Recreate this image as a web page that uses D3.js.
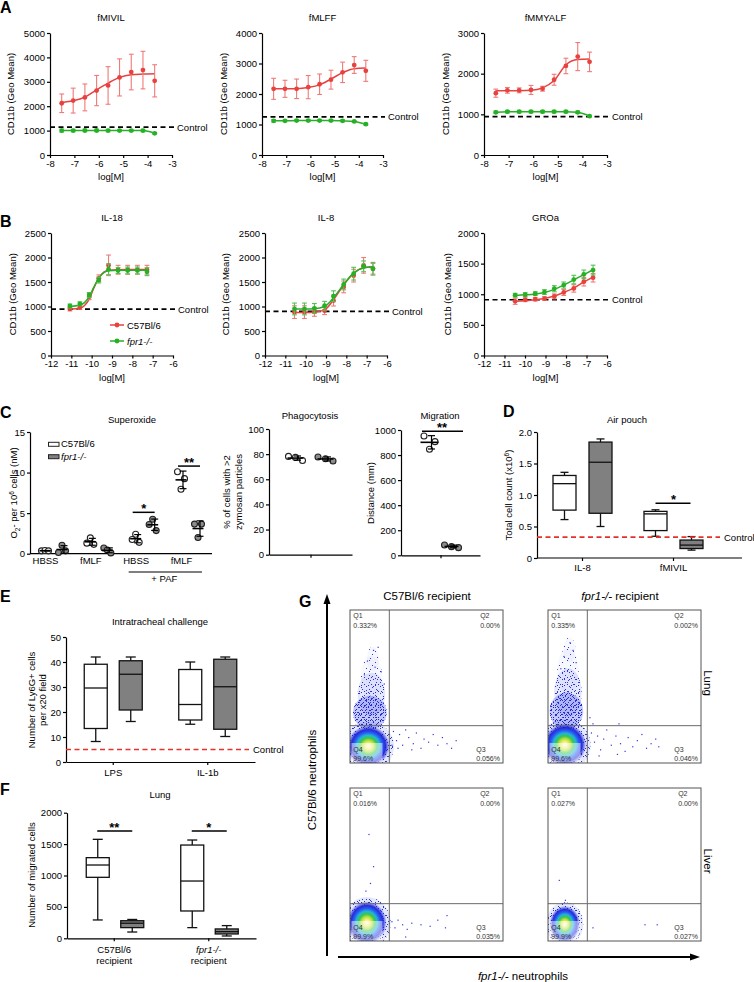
<!DOCTYPE html>
<html><head><meta charset="utf-8">
<script src="https://cdn.jsdelivr.net/npm/d3@7"></script>
<style>body{margin:0;background:#fff}</style>
</head><body>
<script>
// ================= DATA =================
// Panel A (formyl peptides), x = log[M]
const dosesA = [-7.52,-7.05,-6.57,-6.09,-5.62,-5.15,-4.67,-4.19,-3.71];
const ticksA_x = [-8,-7,-6,-5,-4,-3];
const fMIVIL_wt = [2120,2230,2360,2640,2850,3180,3400,3480,3040];
const fMIVIL_wtErr = [380,510,550,620,770,760,730,770,660];
const fMIVIL_wtFit = [2150,2220,2370,2670,2945,3180,3290,3315,3330];
const fMIVIL_ko = [1000,1000,1005,1005,1000,1000,1000,1000,890];
const fMIVIL_koErr = [60,50,50,50,50,40,40,50,30];
const fMIVIL_control = 1140;
const fMLFF_wt = [2170,2170,2170,2225,2320,2470,2710,2950,2760];
const fMLFF_wtErr = [345,280,320,380,335,310,335,275,345];
const fMLFF_wtFit = [2170,2170,2175,2215,2300,2490,2700,2830,2850];
const fMLFF_ko = [1120,1120,1130,1130,1130,1130,1120,1100,1010];
const fMLFF_koErr = [40,30,30,30,30,30,30,30,30];
const fMLFF_control = 1250;
const fMMYALF_wt = [1520,1590,1590,1600,1630,1850,2190,2420,2290];
const fMMYALF_wtErr = [100,70,60,110,60,135,190,345,240];
const fMMYALF_wtFit = [1580,1580,1580,1590,1650,1830,2220,2350,2360];
const fMMYALF_ko = [1050,1065,1065,1065,1065,1065,1065,1050,955];
const fMMYALF_koErr = [30,30,30,30,30,30,30,30,20];
const fMMYALF_control = 945;

// Panel B (chemokines)
const ticksB_x = [-12,-11,-10,-9,-8,-7,-6];
const dosesIL18 = [-11.07,-10.58,-10.12,-9.65,-9.17,-8.70,-8.23,-7.75,-7.28];
const IL18_wt = [950,980,1200,1575,1840,1750,1750,1750,1750];
const IL18_wtErr = [40,40,60,70,210,90,90,90,90];
const IL18_ko = [1010,1055,1235,1540,1760,1735,1735,1735,1710];
const IL18_koErr = [40,40,50,60,110,60,70,70,80];
const IL18_fitDoses = [-11.07,-10.58,-10.35,-10.12,-9.9,-9.65,-9.4,-9.17,-8.70,-8.23,-7.75,-7.28];
const IL18_wtFit = [950,965,1020,1150,1370,1580,1700,1740,1752,1755,1755,1755];
const IL18_koFit = [1000,1030,1080,1200,1390,1580,1690,1730,1740,1740,1740,1740];
const IL18_control = 945;
const dosesIL8 = [-10.55,-10.06,-9.57,-9.07,-8.63,-8.13,-7.64,-7.15,-6.69];
const IL8_wt = [885,885,890,915,1120,1400,1630,1840,1770];
const IL8_wtErr = [130,130,90,80,110,120,130,160,110];
const IL8_wtFit = [880,880,885,930,1140,1440,1680,1790,1810];
const IL8_ko = [950,950,960,1015,1210,1450,1670,1820,1770];
const IL8_koErr = [120,120,100,90,110,110,130,110,130];
const IL8_koFit = [950,950,955,1000,1180,1450,1680,1790,1810];
const IL8_control = 900;
const dosesGROa = [-10.48,-9.99,-9.50,-9.05,-8.57,-8.11,-7.62,-7.13,-6.68];
const GROa_wt = [885,910,920,930,965,1030,1095,1205,1270];
const GROa_wtErr = [50,30,30,30,40,50,60,70,70];
const GROa_wtFit = [885,895,910,930,970,1030,1100,1200,1280];
const GROa_ko = [985,995,1010,1035,1090,1150,1240,1325,1395];
const GROa_koErr = [30,30,30,40,50,50,70,70,80];
const GROa_koFit = [980,990,1005,1030,1080,1150,1235,1320,1400];
const GROa_control = 910;

// Panel C
const soxCats = ['HBSS','fMLF','HBSS+PAF','fMLF+PAF'];
const soxLabels = ['HBSS','fMLF','HBSS','fMLF'];
const soxWT = [[0.35,0.4,0.35],[1.3,1.95,1.15],[1.75,2.4,1.4],[10.1,7.95,9.25]];
const soxKO = [[0.15,1.05,0.35],[0.7,0.45,0.1],[3.6,4.25,2.85],[3.65,2.0,3.65]];
const soxTicks = [0,5,10,15];
const soxSig = [{cat:'HBSS+PAF',y:5.1,label:'*'},{cat:'fMLF+PAF',y:10.8,label:'**'}];
const phagoWT = [78.2,77.4,75.0];
const phagoKO = [77.7,76.3,74.5];
const phagoTicks = [0,20,40,60,80,100];
const migWT = [952,846,907];
const migKO = [82,69,61];
const migTicks = [0,200,400,600,800,1000];
const migSig = 990;

// Panel D (min, Q1, median, Q3, max)
const dCats = ['IL-8','fMIVIL'];
const dWT = [[0.61,0.76,1.18,1.31,1.36],[0.345,0.435,0.70,0.74,0.765]];
const dKO = [[0.50,0.71,1.52,1.84,1.89],[0.125,0.15,0.205,0.285,0.34]];
const dTicks = [0,0.5,1.0,1.5,2.0];
const dControl = 0.33;
const dSig = 0.87;

// Panel E
const eCats = ['LPS','IL-1b'];
const eWT = [[8.2,13.4,29.6,39.1,42],[15.1,16.8,23,37,40]];
const eKO = [[16.2,20.8,35.1,40.5,42],[10.2,13.1,30.1,41.1,42]];
const eTicks = [0,10,20,30,40,50];
const eControl = 5;

// Panel F
const fCats = ['C57Bl/6','fpr1-/-'];
const fWT = [[292,971,1167,1284,1576],[170,435,912,1485,1565]];
const fKO = [[100,170,240,280,300],[37,69,106,149,202]];
const fTicks = [0,500,1000,1500,2000];
const fSig = [{cat:'C57Bl/6',y:1710,label:'**'},{cat:'fpr1-/-',y:1710,label:'*'}];

// Panel G (flow cytometry, units 0-100 on both axes)
const flowCols = ['C57Bl/6 recipient','fpr1-/- recipient'];
const flowRows = ['Lung','Liver'];
const flowGate = [25.7, 24.4];
const flowQ = [['0.332%','0.00%','0.056%','99.6%'],['0.335%','0.002%','0.046%','99.6%'],['0.016%','0.00%','0.035%','99.9%'],['0.027%','0.00%','0.027%','99.9%']];
const flowCore = [[12,11,14,13.5],[11,12,14,14],[11,12,13,14],[11,11,10,12]];
const flowStreak = [
  [[13,33,11,11,3],[14,45,9,14,2],[14,56,7,14,1],[15,68,4,8,1]],
  [[12,34,11,12,3],[13,46,9,16,2],[13,60,7,15,1],[14,74,4,8,1]],
  [],[]];
const flowOut = [
  [[28,21],[30,15],[32,19],[34,12],[36,22],[38,17],[41,13],[43,20],[46,10],[48,16],[51,14],[54,19],[57,12],[60,17],[63,13],[66,10],[69,15],[40,9],[31,10],[27,12],[15,74],[18,76],[11,67],[16,63],[20,60],[9,58],[22,52]],
  [[27,30],[29,26],[46,26],[28,20],[30,14],[32,18],[34,9],[36,16],[38,22],[41,12],[44,18],[47,13],[50,8],[52,17],[55,11],[58,15],[61,19],[64,10],[67,13],[70,16],[72,11],[33,5],[45,6],[14,79],[16,74],[10,70],[18,66],[8,62]],
  [[12,70],[15,49],[13,38],[10,33],[27,13],[29,9],[31,14],[34,11],[37,8],[40,12],[46,11],[52,10],[57,14],[62,9],[63,17],[36,3]],
  [[7,40],[11,27],[29,9],[63,11],[71,11]]
];

// ================= DRAWING =================
const FONT = "'Liberation Sans', Arial, Helvetica, sans-serif";
const RED = '#e8423f', RED_ERR = '#ef7a78', GREEN = '#25b025', GREEN_ERR = '#52c252';
const GREY = '#808080';
const TS = 3, TP = 2;
const fmt = d=>String(d);
const svg = d3.select('body').append('svg').attr('width',754).attr('height',982).style('display','block');
const defs = svg.append('defs');

function txt(x,y,s,o={}){
  const t = svg.append('text').attr('x',x).attr('y',y).text(s)
    .attr('font-family',FONT).attr('font-size',o.size||9.5)
    .attr('text-anchor',o.anchor||'middle').attr('fill',o.fill||'#000');
  if(o.weight) t.attr('font-weight',o.weight);
  if(o.style) t.attr('font-style',o.style);
  return t;
}
function vtxt(cx,cy,s,o={}){
  const rot = o.rot||-90;
  const t = svg.append('text').attr('transform',`translate(${cx + (rot<0?3.4:-3.4)},${cy}) rotate(${rot})`)
    .attr('font-family',FONT).attr('font-size',o.size||9.5).attr('text-anchor','middle').attr('fill','#000');
  if(s!==null) t.text(s);
  return t;
}
function styleAxis(g){
  g.attr('font-family',FONT).attr('font-size',9.5);
  g.select('.domain').attr('stroke','#000').attr('stroke-width',1.2);
  g.selectAll('.tick line').attr('stroke','#000').attr('stroke-width',1.2);
  g.selectAll('.tick text').attr('fill','#000');
}
const left = (y,t,f)=>d3.axisLeft(y).tickValues(t).tickFormat(f||fmt).tickSize(TS).tickPadding(TP).tickSizeOuter(0);
function panelLetter(x,y,s){ txt(x,y,s,{anchor:'start',size:16,weight:'bold'}); }

// ---------- dose response ----------
function doseChart(c){
  const x = d3.scaleLinear().domain([c.xTicks[0], c.xTicks[c.xTicks.length-1]]).range([c.left,c.right]);
  const y = d3.scaleLinear().domain([0,c.yTicks[c.yTicks.length-1]]).range([c.bottom,c.top]);
  svg.append('g').attr('transform',`translate(0,${c.bottom})`)
    .call(d3.axisBottom(x).tickValues(c.xTicks).tickFormat(fmt).tickSize(TS).tickPadding(TP).tickSizeOuter(0)).call(styleAxis);
  svg.append('g').attr('transform',`translate(${c.left},0)`).call(left(y,c.yTicks)).call(styleAxis);
  svg.append('line').attr('x1',c.left).attr('x2',c.right+2).attr('y1',y(c.control)).attr('y2',y(c.control))
    .attr('stroke','#000').attr('stroke-width',1.7).attr('stroke-dasharray','5,3.5');
  txt(c.right+5, y(c.control)+3.5, 'Control', {anchor:'start'});
  c.series.forEach(s=>{
    const fx = s.fitX || c.doses;
    svg.append('path').datum(s.fit)
      .attr('d', d3.line().x((d,i)=>x(fx[i])).y(d=>y(d)).curve(d3.curveMonotoneX))
      .attr('fill','none').attr('stroke',s.color).attr('stroke-width',1.5);
    const g = svg.append('g');
    s.vals.forEach((v,i)=>{
      const xx = x(c.doses[i]), e = s.err[i];
      g.append('line').attr('x1',xx).attr('x2',xx).attr('y1',y(v-e)).attr('y2',y(v+e)).attr('stroke',s.errColor).attr('stroke-width',1.1);
      [v-e,v+e].forEach(w=>g.append('line').attr('x1',xx-2.4).attr('x2',xx+2.4).attr('y1',y(w)).attr('y2',y(w)).attr('stroke',s.errColor).attr('stroke-width',1.1));
      g.append('circle').attr('cx',xx).attr('cy',y(v)).attr('r',2.4).attr('fill',s.color);
    });
  });
  txt((c.left+c.right)/2, c.top-12, c.title);
  txt((c.left+c.right)/2, c.bottom+25, 'log[M]');
  vtxt(c.ylx, (c.top+c.bottom)/2, 'CD11b (Geo Mean)');
  return {x,y};
}

const A = {top:33, bottom:155, xTicks:ticksA_x, doses:dosesA};
doseChart({...A, left:50, right:172, ylx:11, title:'fMIVIL', yTicks:[0,1000,2000,3000,4000,5000], control:fMIVIL_control,
  series:[{vals:fMIVIL_wt, err:fMIVIL_wtErr, fit:fMIVIL_wtFit, color:RED, errColor:RED_ERR},
          {vals:fMIVIL_ko, err:fMIVIL_koErr, fit:fMIVIL_ko, color:GREEN, errColor:GREEN_ERR}]});
doseChart({...A, left:262, right:383, ylx:224, title:'fMLFF', yTicks:[0,1000,2000,3000,4000], control:fMLFF_control,
  series:[{vals:fMLFF_wt, err:fMLFF_wtErr, fit:fMLFF_wtFit, color:RED, errColor:RED_ERR},
          {vals:fMLFF_ko, err:fMLFF_koErr, fit:fMLFF_ko, color:GREEN, errColor:GREEN_ERR}]});
doseChart({...A, left:484, right:607, ylx:446, title:'fMMYALF', yTicks:[0,1000,2000,3000], control:fMMYALF_control,
  series:[{vals:fMMYALF_wt, err:fMMYALF_wtErr, fit:fMMYALF_wtFit, color:RED, errColor:RED_ERR},
          {vals:fMMYALF_ko, err:fMMYALF_koErr, fit:fMMYALF_ko, color:GREEN, errColor:GREEN_ERR}]});
panelLetter(0,13,'A');

const B = {top:233, bottom:355.5, xTicks:ticksB_x};
doseChart({...B, left:51, right:173, ylx:12.5, title:'IL-18', doses:dosesIL18, yTicks:[0,500,1000,1500,2000,2500], control:IL18_control,
  series:[{vals:IL18_wt, err:IL18_wtErr, fit:IL18_wtFit, fitX:IL18_fitDoses, color:RED, errColor:RED_ERR},
          {vals:IL18_ko, err:IL18_koErr, fit:IL18_koFit, fitX:IL18_fitDoses, color:GREEN, errColor:GREEN_ERR}]});
doseChart({...B, left:265, right:387, ylx:226, title:'IL-8', doses:dosesIL8, yTicks:[0,500,1000,1500,2000,2500], control:IL8_control,
  series:[{vals:IL8_wt, err:IL8_wtErr, fit:IL8_wtFit, color:RED, errColor:RED_ERR},
          {vals:IL8_ko, err:IL8_koErr, fit:IL8_koFit, color:GREEN, errColor:GREEN_ERR}]});
doseChart({...B, left:484, right:607, ylx:448, title:'GROa', doses:dosesGROa, yTicks:[0,500,1000,1500,2000], control:GROa_control,
  series:[{vals:GROa_wt, err:GROa_wtErr, fit:GROa_wtFit, color:RED, errColor:RED_ERR},
          {vals:GROa_ko, err:GROa_koErr, fit:GROa_koFit, color:GREEN, errColor:GREEN_ERR}]});
panelLetter(0,227,'B');
[['C57Bl/6',RED,325,false],['fpr1-/-',GREEN,341,true]].forEach(([lab,col,yy,it])=>{
  svg.append('line').attr('x1',110).attr('x2',124).attr('y1',yy).attr('y2',yy).attr('stroke',col).attr('stroke-width',1.5);
  svg.append('circle').attr('cx',117).attr('cy',yy).attr('r',2.4).attr('fill',col);
  txt(127,yy+3.5,lab,{anchor:'start',style:it?'italic':null});
});

// ---------- Panel C ----------
panelLetter(0,418,'C');
function dotGroup(cx, vals, y, fill, step, meanW){
  const g = svg.append('g');
  const m = d3.mean(vals), sd = d3.deviation(vals);
  vals.forEach((v,i)=>g.append('circle').attr('cx',cx+(i-1)*step).attr('cy',y(v)).attr('r',3)
    .attr('fill',fill).attr('stroke','#222').attr('stroke-width',1.1));
  g.append('line').attr('x1',cx-meanW/2).attr('x2',cx+meanW/2).attr('y1',y(m)).attr('y2',y(m)).attr('stroke','#000').attr('stroke-width',1.6);
  g.append('line').attr('x1',cx+2).attr('x2',cx+2).attr('y1',y(m-sd)).attr('y2',y(m+sd)).attr('stroke','#000').attr('stroke-width',1.2);
  [m-sd,m+sd].forEach(w=>g.append('line').attr('x1',cx-1.5).attr('x2',cx+5.5).attr('y1',y(w)).attr('y2',y(w)).attr('stroke','#000').attr('stroke-width',1.2));
}
{
  const y = d3.scaleLinear().domain([0,15]).range([553.7,432]);
  const x = d3.scalePoint().domain(soxCats).range([45,181]);
  svg.append('g').attr('transform','translate(30,0)').call(left(y,soxTicks)).call(styleAxis);
  const gx = svg.append('g').attr('transform','translate(0,553.7)')
    .call(d3.axisBottom(x).tickSize(0).tickPadding(4).tickFormat((d,i)=>soxLabels[i])).call(styleAxis);
  gx.select('.domain').remove();
  svg.append('line').attr('x1',30).attr('x2',212).attr('y1',553.7).attr('y2',553.7).attr('stroke','#000').attr('stroke-width',1.2);
  soxCats.forEach((c,i)=>{
    dotGroup(x(c), soxWT[i], y, '#fff', 3.5, 11);
    dotGroup(x(c)+17, soxKO[i], y, '#8c8c8c', 3.5, 11);
  });
  soxSig.forEach(s=>{
    const yy = y(s.y);
    svg.append('line').attr('x1',x(s.cat)-3).attr('x2',x(s.cat)+19).attr('y1',yy).attr('y2',yy).attr('stroke','#000').attr('stroke-width',1.5);
    txt(x(s.cat)+8, yy+1, s.label, {size:13, weight:'bold'});
  });
  svg.append('line').attr('x1',x('HBSS+PAF')-7).attr('x2',x('fMLF+PAF')+21).attr('y1',572).attr('y2',572).attr('stroke','#000').attr('stroke-width',1);
  txt((x('HBSS+PAF')+x('fMLF+PAF'))/2+6, 582, '+ PAF');
  txt(132,423,'Superoxide');
  const yl = vtxt(14,493,null);
  yl.append('tspan').text('O');
  yl.append('tspan').attr('dy',2.5).attr('font-size',6.5).text('2');
  yl.append('tspan').attr('dy',-2.5).text('- per 10');
  yl.append('tspan').attr('dy',-3.5).attr('font-size',6.5).text('6');
  yl.append('tspan').attr('dy',3.5).text(' cells (nM)');
  [['C57Bl/6','#fff',442.3,false],['fpr1-/-',GREY,454.7,true]].forEach(([lab,f,yy,it])=>{
    svg.append('rect').attr('x',48.5).attr('y',yy).attr('width',10.5).attr('height',4).attr('fill',f).attr('stroke','#222').attr('stroke-width',1);
    txt(61,yy+5,lab,{anchor:'start',style:it?'italic':null});
  });
}
{ // Phagocytosis
  const y = d3.scaleLinear().domain([0,100]).range([554.7,429]);
  const x = d3.scalePoint().domain(['']).range([269,352]).padding(0.5);
  svg.append('g').attr('transform','translate(269,0)').call(left(y,phagoTicks)).call(styleAxis);
  svg.append('g').attr('transform','translate(0,554.7)')
    .call(d3.axisBottom(x).tickSize(TS).tickSizeOuter(0)).call(styleAxis);
  dotGroup(x('')-15, phagoWT, y, '#fff', 7, 16);
  dotGroup(x('')+15, phagoKO, y, '#8c8c8c', 7.5, 16);
  txt(310,419,'Phagocytosis');
  vtxt(227,492,'% of cells with >2');
  vtxt(239,492,'zymosan particles');
}
{ // Migration
  const y = d3.scaleLinear().domain([0,1000]).range([555.3,430]);
  const x = d3.scalePoint().domain(['']).range([401,480]).padding(0.5);
  svg.append('g').attr('transform','translate(401,0)').call(left(y,migTicks)).call(styleAxis);
  svg.append('g').attr('transform','translate(0,555.3)')
    .call(d3.axisBottom(x).tickSize(TS).tickSizeOuter(0)).call(styleAxis);
  dotGroup(x('')-11, migWT, y, '#fff', 5.5, 18);
  dotGroup(x('')+11, migKO, y, '#8c8c8c', 7, 14);
  svg.append('line').attr('x1',422).attr('x2',463).attr('y1',y(migSig)).attr('y2',y(migSig)).attr('stroke','#000').attr('stroke-width',1.5);
  txt(442,y(migSig)+1,'**',{size:13,weight:'bold'});
  txt(440,419,'Migration');
  vtxt(371,493,'Distance (mm)');
}

// ---------- Box plots ----------
function boxPlot(xc, s, fill, y, w, capW){
  const [mn,q1,md,q3,mx] = s;
  const g = svg.append('g').attr('stroke','#111').attr('stroke-width',1.3);
  g.append('line').attr('x1',xc).attr('x2',xc).attr('y1',y(mn)).attr('y2',y(q1));
  g.append('line').attr('x1',xc).attr('x2',xc).attr('y1',y(q3)).attr('y2',y(mx));
  [mn,mx].forEach(v=>g.append('line').attr('x1',xc-capW/2).attr('x2',xc+capW/2).attr('y1',y(v)).attr('y2',y(v)));
  g.append('rect').attr('x',xc-w/2).attr('y',y(q3)).attr('width',w).attr('height',y(q1)-y(q3)).attr('fill',fill);
  g.append('line').attr('x1',xc-w/2).attr('x2',xc+w/2).attr('y1',y(md)).attr('y2',y(md));
}
function redControl(x1,x2,yy){
  svg.append('line').attr('x1',x1).attr('x2',x2).attr('y1',yy).attr('y2',yy)
    .attr('stroke','#e8302a').attr('stroke-width',1.7).attr('stroke-dasharray','5,3.5');
  txt(x2+4, yy+3.5, 'Control', {anchor:'start'});
}
{ // D
  panelLetter(503,417,'D');
  const y = d3.scaleLinear().domain([0,2]).range([558,432]);
  const x = d3.scaleBand().domain(dCats).range([537,719]);
  svg.append('g').attr('transform','translate(537,0)').call(left(y,dTicks,d=>d===0?'0':d.toFixed(1))).call(styleAxis);
  const gx = svg.append('g').attr('transform','translate(0,558)')
    .call(d3.axisBottom(x).tickSize(TS).tickPadding(3).tickSizeOuter(0)).call(styleAxis);
  gx.select('.domain').remove();
  svg.append('line').attr('x1',537).attr('x2',742).attr('y1',558).attr('y2',558).attr('stroke','#000').attr('stroke-width',1.2);
  dCats.forEach((c,i)=>{
    const xc = x(c)+x.bandwidth()/2;
    boxPlot(xc-18, dWT[i], '#fff', y, 23, 8);
    boxPlot(xc+18, dKO[i], GREY, y, 23, 8);
  });
  redControl(537,720,y(dControl));
  const xf = x('fMIVIL')+x.bandwidth()/2;
  svg.append('line').attr('x1',xf-18).attr('x2',xf+17).attr('y1',y(dSig)).attr('y2',y(dSig)).attr('stroke','#000').attr('stroke-width',1.5);
  txt(xf,y(dSig)+1,'*',{size:13,weight:'bold'});
  txt(627,423,'Air pouch');
  const yl = vtxt(509,495,null);
  yl.append('tspan').text('Total cell count (x10');
  yl.append('tspan').attr('dy',-3.5).attr('font-size',6.5).text('6');
  yl.append('tspan').attr('dy',3.5).text(')');
}
{ // E
  panelLetter(0,602,'E');
  const y = d3.scaleLinear().domain([0,50]).range([762,637]);
  const x = d3.scaleBand().domain(eCats).range([66,255]);
  svg.append('g').attr('transform','translate(66,0)').call(left(y,eTicks)).call(styleAxis);
  svg.append('g').attr('transform','translate(0,762)')
    .call(d3.axisBottom(x).tickSize(TS).tickPadding(4).tickSizeOuter(0)).call(styleAxis);
  eCats.forEach((c,i)=>{
    const xc = x(c)+x.bandwidth()/2;
    boxPlot(xc-17.5, eWT[i], '#fff', y, 23, 10);
    boxPlot(xc+17.5, eKO[i], GREY, y, 23, 10);
  });
  redControl(66,249,y(eControl));
  txt(160,625,'Intratracheal challenge');
  vtxt(31.5,700,'Number of Ly6G+ cells');
  vtxt(42.5,700,'per x20 field');
}
{ // F
  panelLetter(0,795,'F');
  const y = d3.scaleLinear().domain([0,2000]).range([938.3,812.7]);
  const x = d3.scaleBand().domain(fCats).range([67,256]);
  svg.append('g').attr('transform','translate(67,0)').call(left(y,fTicks)).call(styleAxis);
  const gx = svg.append('g').attr('transform','translate(0,938.3)')
    .call(d3.axisBottom(x).tickSize(TS).tickSizeOuter(0).tickFormat(''));
  styleAxis(gx);
  fCats.forEach((c,i)=>{
    const xc = x(c)+x.bandwidth()/2;
    boxPlot(xc-16.5, fWT[i], '#fff', y, 23, 10);
    boxPlot(xc+18, fKO[i], GREY, y, 23, 10);
    txt(xc, 953, c, {style: i===1?'italic':null});
    txt(xc, 963.5, 'recipient');
  });
  fSig.forEach(s=>{
    const xc = x(s.cat)+x.bandwidth()/2;
    svg.append('line').attr('x1',xc-17).attr('x2',xc+18).attr('y1',y(s.y)).attr('y2',y(s.y)).attr('stroke','#000').attr('stroke-width',1.5);
    txt(xc,y(s.y)+1,s.label,{size:13,weight:'bold'});
  });
  txt(160,798,'Lung');
  vtxt(31.5,875,'Number of migrated cells');
}

// ---------- Panel G ----------
{
  panelLetter(299,607,'G');
  function dotPattern(id,size,dots,color){
    const p = defs.append('pattern').attr('id',id).attr('width',size).attr('height',size).attr('patternUnits','userSpaceOnUse');
    dots.forEach(([a,b])=>p.append('rect').attr('x',a).attr('y',b).attr('width',1).attr('height',1).attr('fill',color));
  }
  dotPattern('pA',5,[[0,0],[3,2],[1,4]],'#1a22d8');
  dotPattern('pB',7,[[2,0],[5,3],[0,5],[4,6]],'#2030e0');
  dotPattern('pC',11,[[1,2],[6,0],[9,5],[3,8],[7,9]],'#2a3ae4');
  const stipple = {3:['pA','pB','pC'], 2:['pB','pC'], 1:['pC']};
  const baseOp = {3:0.28, 2:0.12, 1:0.04};
  const rg = defs.append('radialGradient').attr('id','fcore');
  [[0,'#fffbe8',1],[0.14,'#f6ee80',1],[0.27,'#b6e23e',1],[0.4,'#3cc44c',1],[0.53,'#1fb6d8',1],[0.66,'#2a5cf2',1],[0.8,'#1c24d6',0.95],[1,'#1c24d6',0]]
    .forEach(([o,c,op])=>rg.append('stop').attr('offset',o).attr('stop-color',c).attr('stop-opacity',op));
  const colX = [350,548], rowY = [610,788], S = 153;
  svg.append('line').attr('x1',327).attr('x2',327).attr('y1',956).attr('y2',602).attr('stroke','#000').attr('stroke-width',2);
  svg.append('path').attr('d','M327,594 L323.5,604 L330.5,604 Z').attr('fill','#000');
  svg.append('line').attr('x1',338).attr('x2',692).attr('y1',957).attr('y2',957).attr('stroke','#000').attr('stroke-width',2);
  svg.append('path').attr('d','M700,957 L690,953.5 L690,960.5 Z').attr('fill','#000');
  vtxt(312.5,780,'C57Bl/6 neutrophils',{size:11.5});
  const xl = txt(523,980,'',{size:11.5});
  xl.append('tspan').attr('font-style','italic').text('fpr1-/-');
  xl.append('tspan').text(' neutrophils');
  txt(427,600,flowCols[0],{size:11.5});
  const t2 = txt(620,600,'',{size:11.5});
  t2.append('tspan').attr('font-style','italic').text('fpr1-/-');
  t2.append('tspan').text(' recipient');
  flowRows.forEach((r,ri)=>vtxt(707, rowY[ri]+73, r, {size:11.5, rot:90}));

  for(let k=0;k<4;k++){
    const px = colX[k%2], py = rowY[Math.floor(k/2)];
    const x = d3.scaleLinear().domain([0,100]).range([px,px+S]);
    const y = d3.scaleLinear().domain([0,100]).range([py+S,py]);
    const cid = 'fclip'+k;
    defs.append('clipPath').attr('id',cid).append('rect').attr('x',px).attr('y',py).attr('width',S).attr('height',S);
    const g = svg.append('g').attr('clip-path',`url(#${cid})`);
    const blob = (cx,cy,rx,ry,dens)=>{
      const e = ()=>g.append('ellipse').attr('cx',x(cx)).attr('cy',y(cy)).attr('rx',x(rx)-x(0)).attr('ry',y(0)-y(ry));
      e().attr('fill','#2a3ae0').attr('fill-opacity',baseOp[dens]);
      stipple[dens].forEach(p=>e().attr('fill',`url(#${p})`));
    };
    flowStreak[k].forEach(([cx,cy,rx,ry,dens])=>blob(cx,cy,rx,ry,dens));
    const [ccx,ccy,crx,cry] = flowCore[k];
    blob(ccx,ccy,crx*1.2,cry*1.2,2);
    g.append('ellipse').attr('cx',x(ccx)).attr('cy',y(ccy)).attr('rx',x(crx)-x(0)).attr('ry',y(0)-y(cry)).attr('fill','url(#fcore)');
    flowOut[k].forEach(([a,b])=>g.append('rect').attr('x',x(a)).attr('y',y(b)).attr('width',1.2).attr('height',1.2).attr('fill','#2a3ae0'));
    g.append('rect').attr('x',px+1.5).attr('y',py+133).attr('width',31).attr('height',19.5).attr('fill','#fff').attr('opacity',0.5);
    svg.append('line').attr('x1',x(flowGate[0])).attr('x2',x(flowGate[0])).attr('y1',py).attr('y2',py+S).attr('stroke','#6a6a6a').attr('stroke-width',1);
    svg.append('line').attr('x1',px).attr('x2',px+S).attr('y1',y(flowGate[1])).attr('y2',y(flowGate[1])).attr('stroke','#6a6a6a').attr('stroke-width',1);
    svg.append('rect').attr('x',px).attr('y',py).attr('width',S).attr('height',S).attr('fill','none').attr('stroke','#555').attr('stroke-width',1);
    const q = flowQ[k];
    const lab = (xx,yy,s,anchor)=>txt(xx,yy,s,{size:7,anchor,fill:'#333'});
    lab(px+3.3,py+8.3,'Q1','start'); lab(px+3.3,py+17.7,q[0],'start');
    lab(px+3.3,py+142,'Q4','start'); lab(px+3.3,py+151,q[3],'start');
    [[q[1],'Q2',8.3,17.7],[q[2],'Q3',142,151]].forEach(([pct,name,y1,y2])=>{
      const t = lab(px+150,py+y2,pct,'end');
      const w = t.node().getComputedTextLength();
      lab(px+150-w,py+y1,name,'start');
    });
  }
}
</script>
</body></html>
